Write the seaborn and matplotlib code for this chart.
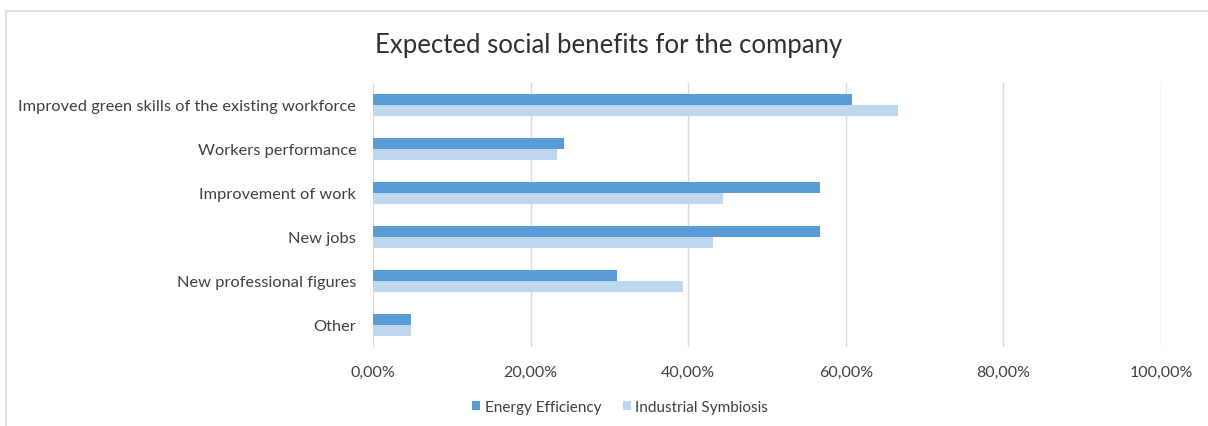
import pandas as pd
import numpy as np
import seaborn as sns
import matplotlib.pyplot as plt
from matplotlib.ticker import FuncFormatter
from matplotlib.patches import Rectangle

categorias = [
    'Improved green skills of the existing workforce',
    'Workers performance',
    'Improvement of work',
    'New jobs',
    'New professional figures',
    'Other',
]
series = ['Energy Efficiency', 'Industrial Symbiosis']
energy_efficiency = [60.8, 24.3, 56.7, 56.7, 31.0, 4.8]
industrial_symbiosis = [66.6, 23.4, 44.4, 43.2, 39.4, 4.8]
ticks_x = [0, 20, 40, 60, 80, 100]

df = pd.DataFrame({
    'categoria': categorias * 2,
    'serie': [series[0]] * len(categorias) + [series[1]] * len(categorias),
    'valor': energy_efficiency + industrial_symbiosis,
})

sns.set_theme(style="white")
plt.rcParams['font.family'] = ['Lato', 'DejaVu Sans']

fig = plt.figure(figsize=(12.08, 4.27), dpi=100)
ax = fig.add_axes([373 / 1208, 1 - 348 / 427, (1161 - 373) / 1208, (348 - 84) / 427])

sns.barplot(
    data=df,
    x='valor',
    y='categoria',
    hue='serie',
    orient='h',
    palette=['#5B9BD5', '#BDD7EE'],
    width=0.52,
    saturation=1,
    linewidth=0,
    ax=ax,
    legend=True,
)

ax.set_xlim(0, 100)
ax.set_xticks(ticks_x)
ax.xaxis.set_major_formatter(FuncFormatter(lambda v, p: f'{v:.2f}%'.replace('.', ',')))
ax.grid(axis='x', color='#D9D9D9', linewidth=1)
ax.set_axisbelow(True)
for s in ax.spines.values():
    s.set_visible(False)
ax.tick_params(axis='x', length=0, labelsize=11.5, colors='#404040', pad=13)
ax.tick_params(axis='y', length=0, labelsize=11.8, colors='#404040', pad=12)
ax.set_xlabel('')
ax.set_ylabel('')

handles, labels = ax.get_legend_handles_labels()
ax.get_legend().remove()
fig.legend(handles, labels, loc='center', bbox_to_anchor=(620 / 1208, 1 - 408 / 427),
           ncol=2, frameon=False, fontsize=11, handlelength=0.55, handleheight=0.55,
           handletextpad=0.3, columnspacing=1.4, labelcolor='#404040')

fig.suptitle('Expected social benefits for the company', x=609 / 1208, y=1 - 45 / 427,
             va='center', fontsize=18.5, color='#303030')

fig.patches.append(Rectangle((6 / 1208, -0.02), 1.0, 1.02 - 12 / 427,
                             transform=fig.transFigure, fill=False,
                             edgecolor='#D9D9D9', linewidth=1.2))

fig.savefig('out.png', dpi=100)
